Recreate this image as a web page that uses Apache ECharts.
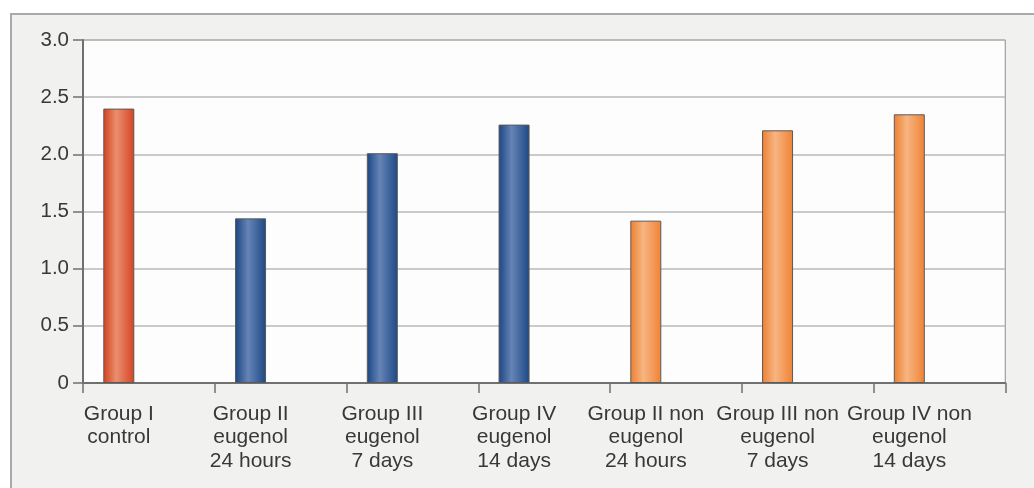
<!DOCTYPE html>
<html>
<head>
<meta charset="utf-8">
<script src="https://cdn.jsdelivr.net/npm/echarts@6/dist/echarts.min.js"></script>
<style>
  html, body { margin: 0; padding: 0; background: #ffffff; width: 100%; height: 100%; overflow: hidden; }
  #panel { position: absolute; left: 10px; top: 13px; right: 0; bottom: 0; background: #f1f1f0; border-top: 2px solid #a9a9a9; border-left: 2px solid #a9a9a9; }
  #chart { position: absolute; left: 0; top: 0; width: 100%; height: 100%; }
</style>
</head>
<body>
<div id="panel"></div>
<div id="chart"></div>
<script>
const categories = [
  'Group I\ncontrol',
  'Group II\neugenol\n24 hours',
  'Group III\neugenol\n7 days',
  'Group IV\neugenol\n14 days',
  'Group II non\neugenol\n24 hours',
  'Group III non\neugenol\n7 days',
  'Group IV non\neugenol\n14 days'
];
const values = [2.40, 1.44, 2.01, 2.26, 1.42, 2.21, 2.35];
const groupKind = ['control', 'eugenol', 'eugenol', 'eugenol', 'non', 'non', 'non'];
const yTicks = { min: 0, max: 3, interval: 0.5 };

const palette = {
  control: ['#d23f1c', '#e98f6e', '#d64322'],
  eugenol: ['#1b4582', '#6684b6', '#1d4884'],
  non: ['#ee7f30', '#f7b582', '#ef8234']
};
function grad(kind) {
  const c = palette[kind];
  return new echarts.graphic.LinearGradient(0, 0, 1, 0, [
    { offset: 0, color: c[0] },
    { offset: 0.42, color: c[1] },
    { offset: 1, color: c[2] }
  ]);
}

const chart = echarts.init(document.getElementById('chart'), null, { renderer: 'canvas' });
chart.setOption({
  backgroundColor: 'transparent',
  animation: false,
  grid: {
    left: 83, right: 17, top: 40, bottom: 105,
    show: true, backgroundColor: '#fdfdfd', borderColor: '#8c8c8c', borderWidth: 1
  },
  xAxis: {
    type: 'category',
    data: categories,
    boundaryGap: true,
    axisLine: { show: true, lineStyle: { color: '#707070', width: 2 } },
    axisTick: { show: true, length: 10, lineStyle: { color: '#707070', width: 1.5 } },
    axisLabel: {
      interval: 0,
      margin: 19,
      fontFamily: 'Liberation Sans, Arial, sans-serif',
      fontSize: 21,
      lineHeight: 23.5,
      color: '#383838',
      align: 'center',
      padding: [0, 60, 0, 0]
    },
    splitLine: { show: false }
  },
  yAxis: {
    type: 'value',
    min: yTicks.min, max: yTicks.max, interval: yTicks.interval,
    axisLine: { show: true, lineStyle: { color: '#707070', width: 2 } },
    axisTick: { show: true, length: 10, lineStyle: { color: '#707070', width: 1.5 } },
    axisLabel: {
      margin: 14,
      fontFamily: 'Liberation Sans, Arial, sans-serif',
      fontSize: 20.5,
      color: '#383838',
      formatter: v => (v === 0 ? '0' : v.toFixed(1))
    },
    splitLine: { show: true, lineStyle: { color: '#b8b8b8', width: 1.5 } }
  },
  series: [
    {
      type: 'bar',
      barWidth: 31,
      barGap: '94%',
      data: values.map((v, i) => ({
        value: v,
        itemStyle: { color: grad(groupKind[i]), borderColor: '#5a5a5a', borderWidth: 1 }
      }))
    },
    {
      type: 'bar',
      barWidth: 31,
      data: values.map(() => null),
      silent: true
    }
  ]
});
</script>
</body>
</html>
